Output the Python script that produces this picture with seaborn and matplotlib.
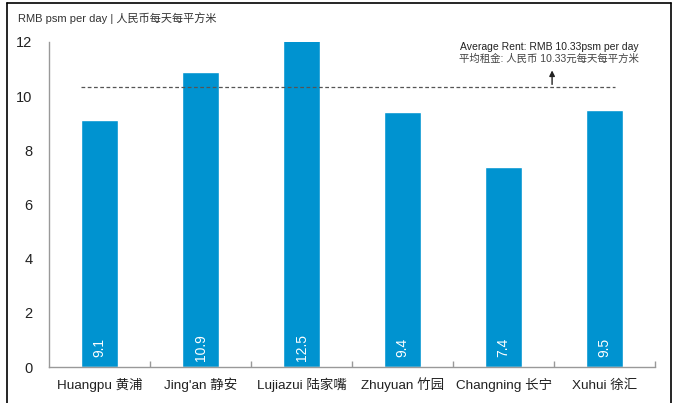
import numpy as np
import pandas as pd
import seaborn as sns
import matplotlib.pyplot as plt
from matplotlib.lines import Line2D

districts = ["Huangpu 黄浦", "Jing'an 静安", "Lujiazui 陆家嘴",
             "Zhuyuan 竹园", "Changning 长宁", "Xuhui 徐汇"]
rents = [9.1, 10.9, 12.5, 9.4, 7.4, 9.5]
avg_rent = 10.33
y_ticks = [0, 2, 4, 6, 8, 10, 12]

df = pd.DataFrame({"district": districts, "rent": rents})

sns.set_style("white")
plt.rcParams['font.family'] = ['Liberation Sans', 'Noto Sans CJK SC', 'DejaVu Sans']

fig = plt.figure(figsize=(6.74, 4.03), dpi=100)
ax = fig.add_axes([0.0727, 0.0893, 0.8993, 0.8067])

sns.barplot(data=df, x="district", y="rent", color="#0093D0",
            width=0.36, saturation=1, ax=ax)

ax.set_ylim(0, 12)
ax.set_xlim(-0.5, len(districts) - 0.5)
ax.set_yticks(y_ticks)
ax.set_xlabel("")
ax.set_ylabel("")
ax.tick_params(axis="y", direction="in", length=4, color="#999999",
               labelsize=10.5, pad=12, labelcolor="#222222")
ax.tick_params(axis="x", which="major", length=0, labelsize=9.7, pad=16,
               labelcolor="#222222")
for lab in ax.get_xticklabels():
    lab.set_verticalalignment("baseline")
ax.set_xticks(np.arange(len(districts)) + 0.5, minor=True)
ax.tick_params(axis="x", which="minor", direction="in", length=4, width=1,
               color="#999999", bottom=True)

for s in ["top", "right"]:
    ax.spines[s].set_visible(False)
for s in ["left", "bottom"]:
    ax.spines[s].set_color("#999999")
    ax.spines[s].set_linewidth(1)

# value labels inside bars
for i, v in enumerate(rents):
    ax.text(i, 0.72, f"{v:.1f}", rotation=90, color="white",
            ha="center", va="center", fontsize=10)

# average line and annotation
ax.hlines(avg_rent, -0.18, 5.1, colors="#555555", linestyles=(0, (3, 2)), linewidth=0.9)
ax.annotate("", xy=(4.48, 11.05), xytext=(4.48, avg_rent),
            arrowprops=dict(arrowstyle="-|>", color="#222222", lw=1, mutation_scale=8))
ax.text(4.45, 11.8, "Average Rent: RMB 10.33psm per day", ha="center", va="center",
        fontsize=7.5, color="#222222")
ax.text(4.45, 11.38, "平均租金: 人民币 10.33元每天每平方米", ha="center", va="center",
        fontsize=7.5, color="#444444")

fig.text(0.027, 0.955, "RMB psm per day | 人民币每天每平方米", fontsize=8,
         color="#333333", ha="left", va="center")

# frame lines around figure (left, top, right)
fig.add_artist(Line2D([0.0105, 0.0105], [0, 0.993], color="black", lw=1.2))
fig.add_artist(Line2D([0.0105, 0.9955], [0.993, 0.993], color="black", lw=1.2))
fig.add_artist(Line2D([0.9955, 0.9955], [0, 0.993], color="black", lw=1.2))

fig.savefig("out.png", dpi=100)
